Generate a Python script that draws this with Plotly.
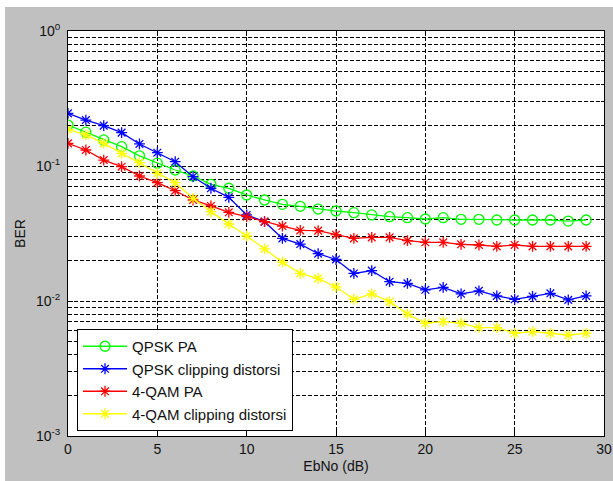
import plotly.graph_objects as go

ebno = list(range(0, 30))

qpsk_pa = [0.201, 0.178, 0.156, 0.139, 0.119, 0.105, 0.0934, 0.0843, 0.0732, 0.0684,
           0.061, 0.056, 0.052, 0.0503, 0.0480, 0.0464, 0.0451, 0.0434, 0.0421, 0.0414,
           0.0405, 0.0414, 0.0403, 0.0403, 0.0398, 0.0398, 0.0398, 0.0398, 0.0391, 0.0398]
qpsk_clip = [0.2455, 0.219, 0.199, 0.1766, 0.1456, 0.1255, 0.1076, 0.0833, 0.0684, 0.0586,
             0.0434, 0.0387, 0.0291, 0.0264, 0.0224, 0.0203, 0.0160, 0.0168, 0.0139, 0.0135,
             0.0121, 0.0126, 0.0113, 0.0119, 0.0109, 0.0103, 0.0108, 0.0114, 0.0102, 0.0109]
qam_pa = [0.147, 0.1314, 0.1107, 0.0988, 0.0843, 0.0752, 0.0656, 0.056, 0.0506, 0.0454,
          0.0421, 0.0387, 0.0359, 0.0333, 0.0332, 0.0310, 0.0291, 0.0296, 0.0296, 0.0280,
          0.0272, 0.0272, 0.0263, 0.0260, 0.0254, 0.0260, 0.0254, 0.0254, 0.0254, 0.0254]
qam_clip = [0.187, 0.170, 0.147, 0.124, 0.106, 0.0883, 0.0752, 0.0576, 0.0459, 0.0372,
            0.0303, 0.0243, 0.0194, 0.0160, 0.0147, 0.0127, 0.0103, 0.0113, 0.00989, 0.0080,
            0.00684, 0.00703, 0.00684, 0.00634, 0.00634, 0.00577, 0.00593, 0.00577, 0.0056, 0.00577]

series_names = ["QPSK PA", "QPSK clipping distorsi", "4-QAM PA", "4-QAM clipping distorsi"]

x_ticks = [0, 5, 10, 15, 20, 25, 30]
y_major = [0.001, 0.01, 0.1, 1]
y_major_text = ["10<sup>-3</sup>", "10<sup>-2</sup>", "10<sup>-1</sup>", "10<sup>0</sup>"]
y_minor = [m * d for d in (0.001, 0.01, 0.1) for m in range(2, 10)]

FONT = "Liberation Sans, Arial, sans-serif"
GRAY = "#c0c0c0"

fig = go.Figure()

styles = [
    dict(color="#00ff00", symbol="circle-open", size=10),
    dict(color="#0000ff", symbol="asterisk-open", size=9),
    dict(color="#ff0000", symbol="asterisk-open", size=9),
    dict(color="#ffff00", symbol="asterisk-open", size=9),
]
for name, ys, st in zip(series_names, [qpsk_pa, qpsk_clip, qam_pa, qam_clip], styles):
    fig.add_trace(go.Scatter(
        x=ebno, y=ys, name=name, mode="lines+markers",
        line=dict(color=st["color"], width=1.3),
        marker=dict(symbol=st["symbol"], size=st["size"], color=st["color"],
                    line=dict(color=st["color"], width=1.3)),
    ))

grid_dash = "4px,2px"

fig.update_xaxes(
    range=[0, 30], tickmode="array", tickvals=x_ticks,
    ticks="inside", ticklen=5, tickcolor="black",
    showline=True, linecolor="black", linewidth=1, mirror="ticks",
    showgrid=True, gridcolor="black", gridwidth=1, griddash=grid_dash,
    zeroline=False, automargin=False, ticklabeloverflow="allow",
    tickfont=dict(family=FONT, size=14, color="#111111"),
    title=dict(text="EbNo (dB)", font=dict(family=FONT, size=14, color="#111111"), standoff=5),
)
fig.update_yaxes(
    type="log", range=[-3, 0], tickmode="array", tickvals=y_major, ticktext=y_major_text,
    ticks="inside", ticklen=5, tickcolor="black",
    showline=True, linecolor="black", linewidth=1, mirror="ticks",
    showgrid=True, gridcolor="black", gridwidth=1, griddash=grid_dash,
    zeroline=False, automargin=False, ticklabeloverflow="allow",
    minor=dict(tickmode="array", tickvals=y_minor, ticks="inside", ticklen=3,
               tickcolor="black", showgrid=True, gridcolor="black", gridwidth=1,
               griddash=grid_dash),
    tickfont=dict(family=FONT, size=14, color="#111111"),
    ticklabelstandoff=4,
    title=dict(text="BER", font=dict(family=FONT, size=14, color="#111111"), standoff=7),
)

fig.update_layout(
    width=613, height=481,
    margin=dict(l=68, r=9, t=31, b=45, autoexpand=False),
    paper_bgcolor=GRAY, plot_bgcolor="white",
    showlegend=True,
    legend=dict(
        x=0.0168, y=0.0123, xanchor="left", yanchor="bottom",
        bgcolor="white", bordercolor="black", borderwidth=1,
        font=dict(family=FONT, size=15, color="#111111"),
        tracegroupgap=0, itemwidth=44,
    ),
    shapes=[
        dict(type="rect", xref="paper", yref="paper", x0=-0.2, x1=1.1, y0=1.0593, y1=1.2,
             fillcolor="white", line=dict(width=0), layer="below"),
        dict(type="rect", xref="paper", yref="paper", x0=-0.2, x1=-0.1175, y0=-0.2, y1=1.2,
             fillcolor="white", line=dict(width=0), layer="below"),
    ],
)

fig.write_html(
    "out.html",
    config={"displayModeBar": False},
    post_script="document.body.style.margin='0';document.body.style.overflow='hidden';",
)
